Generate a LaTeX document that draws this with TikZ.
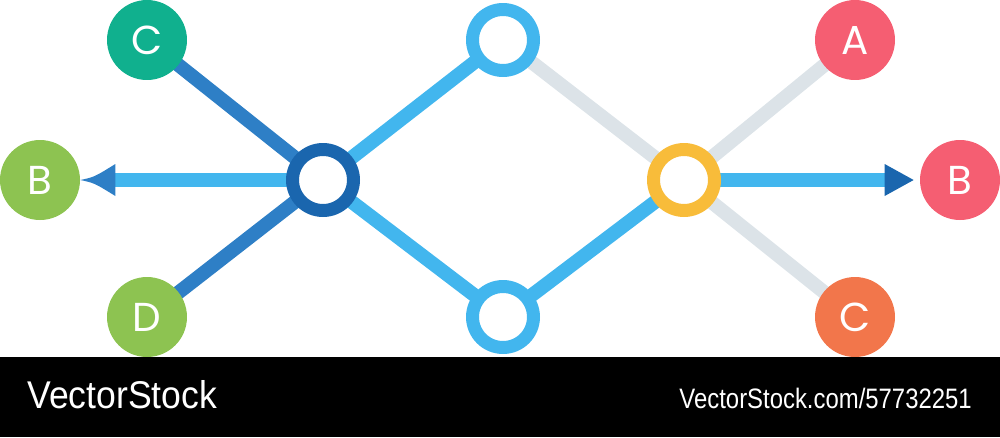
\documentclass[tikz,border=0pt]{standalone}
\usepackage{fontspec}
\setmainfont{Poppins}
\newfontfamily\barfont{Liberation Sans}
\usetikzlibrary{calc}
\definecolor{lblue}{HTML}{42B6EE}
\definecolor{mblue}{HTML}{2E7FC6}
\definecolor{dblue}{HTML}{1A66AE}
\definecolor{lgray}{HTML}{DCE3E8}
\definecolor{teal}{HTML}{10B08E}
\definecolor{lgreen}{HTML}{8DC351}
\definecolor{pinkred}{HTML}{F55E72}
\definecolor{orng}{HTML}{F2764B}
\definecolor{yell}{HTML}{F8BC3A}
\pgfdeclarelayer{bg}
\pgfsetlayers{bg,main}
\tikzset{
  disc/.style={circle, fill=#1, minimum size=1.6cm, inner sep=0pt, text=white, font=\fontsize{23}{23}\selectfont},
  ring/.style={circle, draw=#1, line width=0.26cm, fill=white, minimum size=1.22cm, inner sep=0pt},
  wire/.style={line width=0.28cm, draw=#1},
}
\begin{document}
\begin{tikzpicture}[x=0.02cm, y=-0.02cm]
\useasboundingbox (0,0) rectangle (1000,437);
% nodes
\node[disc=teal] (Cl) at (147,40) {C};
\node[disc=lgreen] (Bl) at (40,180) {B};
\node[disc=lgreen] (Dl) at (147,317) {D};
\node[ring=dblue] (H) at (323,180) {};
\node[ring=lblue] (T) at (503,40) {};
\node[ring=lblue] (U) at (503,317) {};
\node[ring=yell] (Y) at (684,180) {};
\node[disc=pinkred] (Ar) at (855,40) {A};
\node[disc=pinkred] (Br) at (960,180) {B};
\node[disc=orng] (Cr) at (855,317) {C};
\coordinate (la) at ($(Bl.east)+(35,0)$);
\coordinate (ra) at ($(Br.west)+(-35,0)$);
\begin{pgfonlayer}{bg}
  \draw[wire=mblue] (Cl.center) -- (H.center);
  \draw[wire=mblue] (Dl.center) -- (H.center);
  \draw[wire=lblue] (H.center) -- (la);
  \draw[wire=lblue] (H.center) -- (T.center);
  \draw[wire=lblue] (H.center) -- (U.center);
  \draw[wire=lgray] (T.center) -- (Y.center);
  \draw[wire=lblue] (U.center) -- (Y.center);
  \draw[wire=lgray] (Y.center) -- (Ar.center);
  \draw[wire=lgray] (Y.center) -- (Cr.center);
  \draw[wire=lblue] (Y.center) -- (ra);
\end{pgfonlayer}
% left arrow head (concave flanks)
\fill[mblue] (Bl.east) .. controls ($(Bl.east)+(14,-3)$) .. ($(la)+(0,-16)$)
  -- ($(la)+(0,16)$) .. controls ($(Bl.east)+(14,3)$) .. cycle;
% right arrow head
\fill[dblue] ($(Br.west)+(-6,0)$) -- ($(ra)+(0,-16)$) -- ($(ra)+(0,16)$) -- cycle;
% bottom bar
\fill[black] (0,357) rectangle (1000,437);
\node[anchor=base west, inner sep=0pt, text=white, xscale=0.92, font=\barfont\fontsize{22}{22}\selectfont] (L1) at (27,408) {VectorStock};
\node[anchor=base east, inner sep=0pt, text=white, xscale=0.85, font=\barfont\fontsize{16}{16}\selectfont] (L2) at (972,408) {VectorStock.com/57732251};
\end{tikzpicture}
\end{document}
